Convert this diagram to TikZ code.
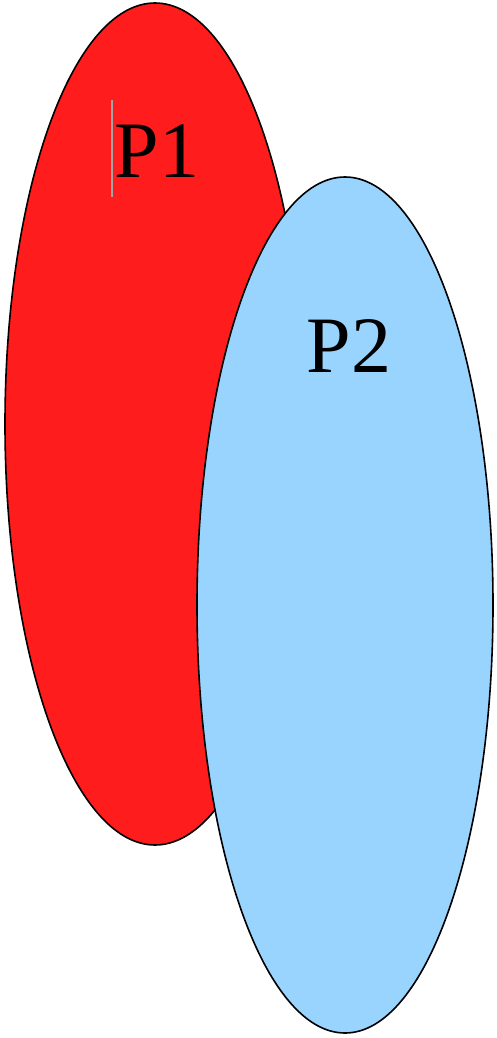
\documentclass[tikz,border=0pt]{standalone}
\usepackage{fontspec}
\setmainfont{Liberation Serif}
\definecolor{setred}{RGB}{255,28,28}
\definecolor{setblue}{RGB}{153,212,255}

\begin{document}
\begin{tikzpicture}[
    x=1pt, y=-1pt,
    setshape/.style={draw=black, line width=1.6pt},
    setlabel/.style={font=\fontsize{80}{84}\selectfont, text=black, inner sep=0pt}
]
    \useasboundingbox (0,0) rectangle (496,1038);
    % Sets
    \draw [setshape, fill=setred] (155,424) ellipse [x radius=150, y radius=421];
    \draw [setshape, fill=setblue] (345,605) ellipse [x radius=148, y radius=428];

    % Labels
    \node (p1) [setlabel] at (157,151) {P1};
    \node (p2) [setlabel] at (349,346) {P2};

    % Cursor mark
    \coordinate (cursortop) at (112,100);
    \coordinate (cursorbot) at (112,197);
    \draw [gray!70, line width=1.5pt] (cursortop) -- (cursorbot);
\end{tikzpicture}
\end{document}
